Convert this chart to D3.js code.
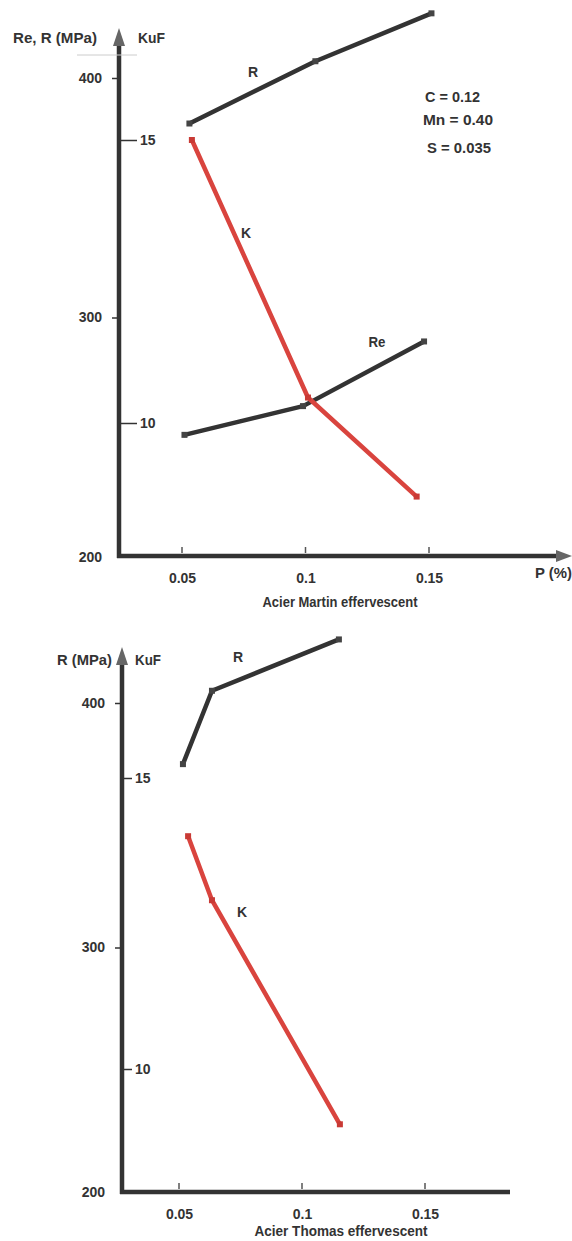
<!DOCTYPE html>
<html><head><meta charset="utf-8">
<script src="https://cdn.jsdelivr.net/npm/d3@7"></script>
<style>
html,body{margin:0;padding:0;background:#fff;}
svg text{font-family:"Liberation Sans",Arial,sans-serif;font-weight:bold;fill:#333;}
</style></head>
<body><svg id="c" width="572" height="1241"></svg>
<script>
// ---- data ----
const xTicks = [0.05, 0.1, 0.15];
const xTickLabels = ["0.05", "0.1", "0.15"];
const rTicks = [200, 300, 400];
const kTicks = [10, 15];

// Acier Martin effervescent
const martinP_R = [0.053, 0.104, 0.151];
const martinR = [381, 407, 427];
const martinP_Re = [0.051, 0.099, 0.148];
const martinRe = [251, 263, 290];
const martinP_K = [0.054, 0.101, 0.145];
const martinK = [15.0, 10.45, 8.7];
const martinComp = ["C = 0.12", "Mn = 0.40", "S = 0.035"];

// Acier Thomas effervescent
const thomasP_R = [0.0516, 0.0634, 0.115];
const thomasR = [375, 405, 426];
const thomasP_K = [0.0537, 0.0634, 0.1154];
const thomasK = [14.0, 12.9, 9.05];

const svg = d3.select("#c");
const dark = "#333", red = "#d9443e";
const FS = 14;

function styleText(sel) {
  sel.attr("font-size", FS).attr("font-family", "Liberation Sans").attr("font-weight", "bold").attr("fill", dark);
}

function panel(o) {
  const g = svg.append("g");
  const x = d3.scaleLinear().domain([0.05, 0.15]).range(o.xr);
  const yR = d3.scaleLinear().domain([200, 400]).range(o.yr);
  const yK = d3.scaleLinear().domain([10, 15]).range(o.yk);
  const ax = o.axisX;

  const la = g.append("g").attr("transform", `translate(${ax},0)`)
    .call(d3.axisLeft(yR).tickValues(rTicks).tickFormat(d3.format("d")).tickSize(7).tickPadding(o.rPad));
  la.select(".domain").remove();
  la.selectAll("line").attr("stroke", dark).attr("stroke-width", 1.5);
  styleText(la.selectAll("text"));
  la.selectAll(".tick").filter(d => d === 200).select("line").remove();

  const ra = g.append("g").attr("transform", `translate(${ax},0)`)
    .call(d3.axisRight(yK).tickValues(kTicks).tickFormat(d3.format("d")).tickSize(o.kTick).tickPadding(3));
  ra.select(".domain").remove();
  ra.selectAll("line").attr("stroke", dark).attr("stroke-width", 1.5);
  styleText(ra.selectAll("text"));

  const xa = g.append("g").attr("transform", `translate(0,${o.axisY})`)
    .call(d3.axisBottom(x).tickValues(xTicks).tickFormat((d, i) => xTickLabels[i]).tickSize(0).tickPadding(o.xPad));
  xa.select(".domain").remove();
  styleText(xa.selectAll("text"));
  g.selectAll(".xt").data(xTicks).join("line")
    .attr("x1", d => x(d)).attr("x2", d => x(d))
    .attr("y1", o.axisY - 9).attr("y2", o.axisY - 3)
    .attr("stroke", "#555").attr("stroke-width", 1.5);

  g.append("line").attr("x1", ax).attr("x2", ax).attr("y1", o.yTop + 12).attr("y2", o.axisY + 2)
    .attr("stroke", dark).attr("stroke-width", 4.5);
  g.append("path").attr("d", `M${ax},${o.yTop} L${ax - 6},${o.yTop + 18} L${ax + 6},${o.yTop + 18} Z`).attr("fill", "#666");
  g.append("line").attr("x1", ax - 2).attr("x2", o.xEnd - (o.xArrow ? 10 : 0)).attr("y1", o.axisY).attr("y2", o.axisY)
    .attr("stroke", dark).attr("stroke-width", 4.5);
  if (o.xArrow) g.append("path").attr("d", `M${o.xEnd},${o.axisY} L${o.xEnd - 16},${o.axisY - 6} L${o.xEnd - 16},${o.axisY + 6} Z`).attr("fill", "#666");

  const line = (ys) => d3.line().x(d => x(d[0])).y(d => ys(d[1]));
  o.series.forEach(s => {
    const pts = s.p.map((p, i) => [p, s.v[i]]);
    const ys = s.k ? yK : yR;
    g.append("path").datum(pts).attr("d", line(ys)).attr("fill", "none")
      .attr("stroke", s.c).attr("stroke-width", 4.5).attr("stroke-linecap", "round").attr("stroke-linejoin", "round");
    g.selectAll(null).data(pts).join("rect")
      .attr("x", d => x(d[0]) - 3).attr("y", d => ys(d[1]) - 3).attr("width", 6).attr("height", 6)
      .attr("fill", s.c === red ? "#c93a35" : "#444");
  });
  return { g, x, yR, yK };
}

const t = (g, s, x, y, anchor, len) => {
  const e = g.append("text").attr("x", x).attr("y", y).attr("text-anchor", anchor || "start")
    .attr("font-size", FS).text(s);
  if (len) e.attr("textLength", len).attr("lengthAdjust", "spacingAndGlyphs");
  return e;
};

// ---- top panel ----
const topPanel = panel({
  xr: [182, 429], yr: [557, 78], yk: [423, 140], axisX: 119, axisY: 556, yTop: 28, xEnd: 572, xArrow: true,
  rPad: 10, kTick: 18, xPad: 17,
  series: [
    { p: martinP_R, v: martinR, c: dark },
    { p: martinP_Re, v: martinRe, c: dark },
    { p: martinP_K, v: martinK, c: red, k: true }
  ]
});
topPanel.g.append("line").attr("x1", 77).attr("x2", 137).attr("y1", 55).attr("y2", 55).attr("stroke", "#ccc").attr("stroke-width", 1);
t(topPanel.g, "Re, R (MPa)", 13, 43, "start", 84);
t(topPanel.g, "KuF", 138, 43, "start", 27);
t(topPanel.g, "R", 253, 77, "middle");
t(topPanel.g, "K", 246, 238, "middle");
t(topPanel.g, "Re", 377, 347, "middle", 17);
t(topPanel.g, "P (%)", 535, 578, "start", 37);
t(topPanel.g, "Acier Martin effervescent", 340, 607, "middle", 155);
const compX = [425, 423, 427], compY = [102, 125, 153], compW = [55, 70, 64];
martinComp.forEach((s, i) => t(topPanel.g, s, compX[i], compY[i], "start", compW[i]));

// ---- bottom panel ----
const botPanel = panel({
  xr: [179, 425], yr: [1192, 703], yk: [1069, 778], axisX: 122, axisY: 1192, yTop: 647, xEnd: 510, xArrow: false,
  rPad: 10, kTick: 10, xPad: 17,
  series: [
    { p: thomasP_R, v: thomasR, c: dark },
    { p: thomasP_K, v: thomasK, c: red, k: true }
  ]
});
t(botPanel.g, "R (MPa)", 112, 665, "end", 55);
t(botPanel.g, "KuF", 135, 665, "start", 26);
t(botPanel.g, "R", 238, 662, "middle");
t(botPanel.g, "K", 242, 917, "middle");
t(botPanel.g, "Acier Thomas effervescent", 341, 1236, "middle", 173);
</script></body></html>
